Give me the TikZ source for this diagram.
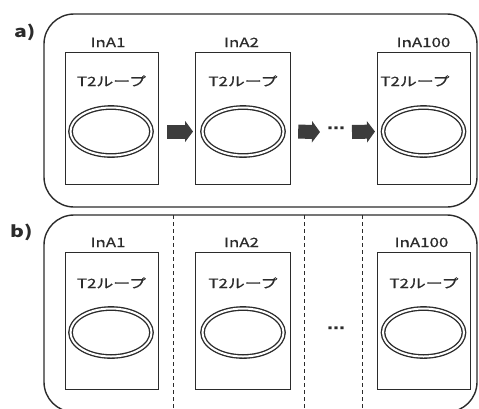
\documentclass[tikz,border=0pt]{standalone}
\usepackage{fontspec}
\setmainfont[FakeStretch=1.32]{Noto Sans CJK JP}
\newfontfamily\labelfont[FakeStretch=1.32,FakeBold=0.6]{Noto Sans CJK JP}
\newfontfamily\dotsfont[FakeStretch=1.2]{DejaVu Sans}
\usetikzlibrary{arrows.meta,shapes.geometric}

\definecolor{ink}{HTML}{2B2B2B}
\definecolor{arrowfill}{HTML}{3C3C3C}

\tikzset{
  panel/.style={draw=ink, line width=1.4pt, rounded corners=30pt},
  inst/.style={draw=ink, line width=1.2pt, minimum width=93pt, minimum height=132pt,
               inner sep=0pt, anchor=north west},
  ringloop/.style={ellipse, draw=ink, double=white, double distance=2pt, line width=1.35pt,
                   minimum width=81pt, minimum height=48pt, inner sep=0pt},
  lbl/.style={text=ink, font=\labelfont\fontsize{12.8}{14}\selectfont, anchor=base, inner sep=0pt},
  tag/.style={text=ink, font=\bfseries\fontsize{16}{18}\selectfont, anchor=base west, inner sep=0pt},
  blockarrow/.style={draw=arrowfill, line width=14pt,
                     -{Triangle[length=8pt,width=21pt]}},
  sep/.style={draw=ink, line width=1pt, dash pattern=on 4pt off 3pt},
  ell/.style={text=ink, font=\dotsfont\bfseries\fontsize{15}{16}\selectfont, inner sep=0pt}
}

\begin{document}
\begin{tikzpicture}[x=1pt,y=-1pt]
\useasboundingbox (0,0) rectangle (479,408);
\clip (0,0) rectangle (479,408);

% ---------- a) sequential chain ----------
\node[tag] (tagA) at (14,37) {a)};
\draw[panel] (44,14) rectangle (477,207);

\node[inst] (a1) at (65,52) {};
\node[inst, minimum width=95pt] (a2) at (195,52) {};
\node[inst] (a3) at (377,52) {};

\node[lbl] (a1name) at (108,47) {InA1};
\node[lbl] (a2name) at (241.5,47) {InA2};
\node[lbl] (a3name) at (423.5,47) {InA100};

\node[lbl] (a1t) at (111.5,86) {T2ループ};
\node[lbl] (a2t) at (243,86) {T2ループ};
\node[lbl] (a3t) at (415,86) {T2ループ};

\node[ringloop] (a1e) at (111,131.5) {};
\node[ringloop] (a2e) at (243,131.5) {};
\node[ringloop] (a3e) at (423.5,131.5) {};

\coordinate (a2out) at (320,132);
\coordinate (a3in) at (352,132);
\node[ell] (adots) at (336,130) {⋯};

\draw[blockarrow, shorten <=8pt, shorten >=2pt] (a1.east |- a1e) -- (a2.west |- a2e);
\draw[blockarrow, shorten <=7pt] (a2.east |- a2e) -- (a2out);
\draw[blockarrow, shorten >=2pt] (a3in) -- (a3.west |- a3e);

% ---------- b) independent instances ----------
\node[tag] (tagB) at (10,237) {b)};
\draw[panel] (44,215) rectangle (477,412);

\coordinate (s1t) at (173,215); \coordinate (s1b) at (173,408);
\coordinate (s2t) at (304,215); \coordinate (s2b) at (304,408);
\coordinate (s3t) at (362,215); \coordinate (s3b) at (362,408);
\draw[sep] (s1t) -- (s1b);
\draw[sep] (s2t) -- (s2b);
\draw[sep] (s3t) -- (s3b);

\node[inst, minimum height=137pt] (b1) at (65,252) {};
\node[inst, minimum height=137pt, minimum width=95pt] (b2) at (195,252) {};
\node[inst, minimum height=137pt] (b3) at (377,252) {};

\node[lbl] (b1name) at (108,247) {InA1};
\node[lbl] (b2name) at (241.5,247) {InA2};
\node[lbl] (b3name) at (421.5,247) {InA100};

\node[lbl] (b1t) at (111.5,288) {T2ループ};
\node[lbl] (b2t) at (243,288) {T2ループ};
\node[lbl] (b3t) at (424,288) {T2ループ};

\node[ringloop] (b1e) at (111,332.5) {};
\node[ringloop] (b2e) at (243,332.5) {};
\node[ringloop] (b3e) at (423.5,332.5) {};

\node[ell] (bdots) at (336,330) {⋯};
\end{tikzpicture}
\end{document}
